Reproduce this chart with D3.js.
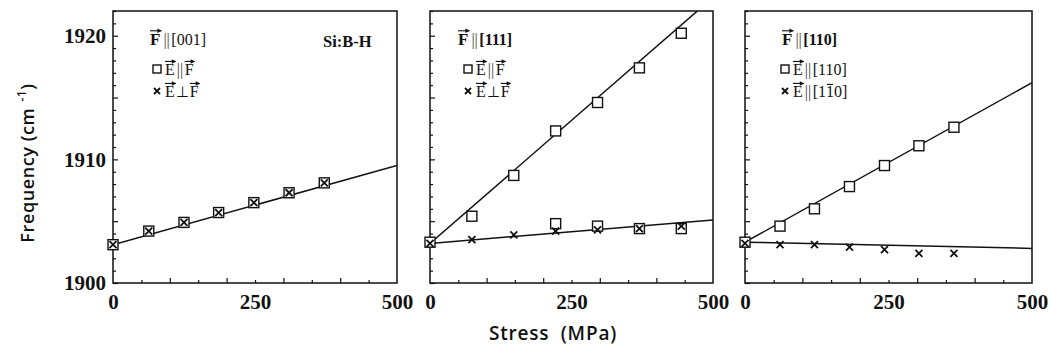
<!DOCTYPE html>
<html>
<head>
<meta charset="utf-8">
<script src="https://cdn.jsdelivr.net/npm/d3@7"></script>
<style>
  body { margin: 0; background: #fff; }
  svg { display: block; }
  .tick text { font-family: "Liberation Serif", serif; font-weight: bold; font-size: 21px; fill: #111; }
  .tick line { stroke: #111; stroke-width: 1.2; }
</style>
</head>
<body>
<svg id="chart" width="1051" height="351"></svg>
<script>
// ---- data ----
const stress001 = [0, 63, 125, 186, 248, 310, 372];
const par001 = [1903.1, 1904.2, 1904.9, 1905.7, 1906.5, 1907.3, 1908.1];
const perp001 = [1903.1, 1904.2, 1904.9, 1905.7, 1906.5, 1907.3, 1908.1];

const stress111 = [0, 74, 148, 222, 296, 370, 444];
const par111 = [1903.3, 1905.4, 1908.7, 1912.3, 1914.6, 1917.4, 1920.2];
const stress111Low = [222, 296, 370, 444];
const par111Low = [1904.8, 1904.6, 1904.4, 1904.4];
const perp111 = [1903.2, 1903.5, 1903.9, 1904.2, 1904.3, 1904.4, 1904.6];

const stress110 = [0, 61, 121, 182, 243, 303, 364];
const par110 = [1903.3, 1904.6, 1906.0, 1907.8, 1909.5, 1911.1, 1912.6];
const perp110 = [1903.2, 1903.1, 1903.1, 1902.9, 1902.7, 1902.4, 1902.4];

// fitted lines, value at 0 and 500 MPa
const fitStress = [0, 500];
const fit001 = [1903.1, 1909.5];
const fit111Up = [1903.2, 1923.1];
const fit111Low = [1903.2, 1905.1];
const fit110Up = [1903.3, 1916.2];
const fit110Low = [1903.3, 1902.8];

const freqTicks = [1900, 1910, 1920];
const stressTicks = [0, 250, 500];
const freqDomain = [1900, 1922];
const stressDomain = [0, 500];

const yTitle = "Frequency (cm";
const xTitle = "Stress  (MPa)";
const sampleLabel = "Si:B-H";

// ---- layout ----
const svg = d3.select("#chart");
const plotTop = 11, plotBottom = 283;
const panelLeft = [113, 430, 745];
const panelWidth = [284, 283, 287];
const legendX = [150, 458, 782];
const markerX = [157, 468, 785];
const serif = "Liberation Serif, serif";
const sans = "Open Sans, sans-serif";

const y = d3.scaleLinear().domain(freqDomain).range([plotBottom, plotTop]);

// text built from pieces, with arrows / bars over some of them
function rich(g, x0, yb, parts) {
    let cx = x0;
    parts.forEach(p => {
        const fs = p.size || 16;
        const t = g.append("text")
            .attr("x", cx).attr("y", yb)
            .attr("font-family", serif)
            .attr("font-size", fs)
            .attr("font-weight", p.bold ? "bold" : "normal")
            .attr("fill", p.light ? "#444" : "#111")
            .text(p.t);
        const w = t.node().getComputedTextLength();
        if (p.arrow) {
            const ay = yb - fs * 0.66 - 3;
            g.append("line").attr("x1", cx).attr("x2", cx + w + 1)
                .attr("y1", ay).attr("y2", ay)
                .attr("stroke", "#111").attr("stroke-width", 1.1);
            g.append("path")
                .attr("d", `M${cx + w - 3},${ay - 2.3}L${cx + w + 1.5},${ay}L${cx + w - 3},${ay + 2.3}Z`)
                .attr("fill", "#111");
        }
        if (p.bar) {
            const by = yb - fs * 0.66 - 2;
            g.append("line").attr("x1", cx + 1).attr("x2", cx + w - 1)
                .attr("y1", by).attr("y2", by)
                .attr("stroke", "#111").attr("stroke-width", 1.1);
        }
        cx += w + (p.gap || 0);
    });
}

function square(g, cx, cy, s) {
    g.append("rect").attr("x", cx - s / 2).attr("y", cy - s / 2)
        .attr("width", s).attr("height", s)
        .attr("fill", "#fff").attr("stroke", "#111").attr("stroke-width", 1.4);
}
function cross(g, cx, cy, s) {
    g.append("path")
        .attr("d", `M${cx - s / 2},${cy - s / 2}L${cx + s / 2},${cy + s / 2}M${cx - s / 2},${cy + s / 2}L${cx + s / 2},${cy - s / 2}`)
        .attr("stroke", "#111").attr("stroke-width", 1.8).attr("fill", "none");
}

const bars = {t: "||", light: true, size: 16, gap: 1.5};
const panels = [
    { fits: [fit001], squares: [[stress001, par001]], crosses: [stress001, perp001],
      title: [{t: "F", bold: true, arrow: true, size: 17, gap: 3}, bars, {t: "[001]", size: 16}],
      row1: [{t: "E", arrow: true, gap: 2}, bars, {t: "F", arrow: true}],
      row2: [{t: "E", arrow: true, gap: 1}, {t: "\u22A5", size: 15, gap: 1}, {t: "F", arrow: true}] },
    { fits: [fit111Up, fit111Low], squares: [[stress111, par111], [stress111Low, par111Low]], crosses: [stress111, perp111],
      title: [{t: "F", bold: true, arrow: true, size: 17, gap: 3}, bars, {t: "[111]", bold: true, size: 16}],
      row1: [{t: "E", arrow: true, gap: 2}, bars, {t: "F", arrow: true}],
      row2: [{t: "E", arrow: true, gap: 1}, {t: "\u22A5", size: 15, gap: 1}, {t: "F", arrow: true}] },
    { fits: [fit110Up, fit110Low], squares: [[stress110, par110]], crosses: [stress110, perp110],
      title: [{t: "F", bold: true, arrow: true, size: 17, gap: 3}, bars, {t: "[110]", bold: true, size: 16}],
      row1: [{t: "E", arrow: true, gap: 2}, bars, {t: "[110]"}],
      row2: [{t: "E", arrow: true, gap: 2}, bars, {t: "[1"}, {t: "1", bar: true}, {t: "0]"}] }
];

panels.forEach((p, i) => {
    const left = panelLeft[i], w = panelWidth[i];
    const x = d3.scaleLinear().domain(stressDomain).range([left, left + w]);
    const g = svg.append("g");

    // clip for fit lines
    svg.append("clipPath").attr("id", "clip" + i)
        .append("rect").attr("x", left).attr("y", plotTop)
        .attr("width", w).attr("height", plotBottom - plotTop);

    // ticks, all pointing inwards
    const minorY = d3.range(freqDomain[0], freqDomain[1] + 1).filter(d => d % 5 != 0);
    const majorY = d3.range(freqDomain[0], freqDomain[1] + 1).filter(d => d % 5 == 0);
    g.append("g").attr("transform", `translate(${left},0)`)
        .call(d3.axisLeft(y).tickValues(minorY).tickSize(-3).tickFormat(""))
        .call(a => a.select(".domain").remove());
    g.append("g").attr("transform", `translate(${left},0)`)
        .call(d3.axisLeft(y).tickValues(majorY).tickSize(-5).tickFormat(""))
        .call(a => a.select(".domain").remove());
    const minorX = d3.range(50, 500, 100);
    const majorX = d3.range(100, 500, 100);
    g.append("g").attr("transform", `translate(0,${plotBottom})`)
        .call(d3.axisBottom(x).tickValues(minorX).tickSize(-3).tickFormat(""))
        .call(a => a.select(".domain").remove());
    g.append("g").attr("transform", `translate(0,${plotBottom})`)
        .call(d3.axisBottom(x).tickValues(majorX).tickSize(-5).tickFormat(""))
        .call(a => a.select(".domain").remove());

    // tick labels
    g.append("g").attr("transform", `translate(0,${plotBottom})`)
        .call(d3.axisBottom(x).tickValues(stressTicks).tickSize(0).tickPadding(11).tickFormat(d3.format("d")))
        .call(a => a.select(".domain").remove());
    if (i == 0) {
        g.append("g").attr("transform", `translate(${left},0)`)
            .call(d3.axisLeft(y).tickValues(freqTicks).tickSize(0).tickPadding(7).tickFormat(d3.format("d")))
            .call(a => a.select(".domain").remove());
    }

    // frame
    g.append("rect").attr("x", left).attr("y", plotTop)
        .attr("width", w).attr("height", plotBottom - plotTop)
        .attr("fill", "none").attr("stroke", "#111").attr("stroke-width", 1.5);

    // fit lines
    const lineGen = d3.line().x(d => x(d[0])).y(d => y(d[1]));
    p.fits.forEach(f => {
        g.append("path")
            .attr("d", lineGen(fitStress.map((s, k) => [s, f[k]])))
            .attr("clip-path", `url(#clip${i})`)
            .attr("stroke", "#111").attr("stroke-width", 1.5).attr("fill", "none");
    });

    // points
    p.squares.forEach(([sx, sy]) => {
        sx.forEach((s, k) => square(g, x(s), y(sy[k]), 10));
    });
    p.crosses[0].forEach((s, k) => cross(g, x(s), y(p.crosses[1][k]), 7));

    // legend
    rich(g, legendX[i], 45, p.title);
    square(g, markerX[i], 69, 8);
    rich(g, markerX[i] + 8, 75, p.row1);
    cross(g, markerX[i], 91, 6);
    rich(g, markerX[i] + 8, 97, p.row2);
});

// sample label
svg.append("text").attr("x", 323).attr("y", 47)
    .attr("font-family", serif).attr("font-weight", "bold").attr("font-size", 16.5)
    .attr("fill", "#111").text(sampleLabel);

// axis titles
const yt = svg.append("text")
    .attr("transform", "translate(34,163) rotate(-90)")
    .attr("text-anchor", "middle")
    .attr("font-family", sans).attr("font-weight", 600).attr("font-size", 18)
    .attr("letter-spacing", 0.6).attr("fill", "#111");
yt.append("tspan").text(yTitle);
yt.append("tspan").attr("dx", 6).attr("dy", -8).attr("font-size", 12).text("-1");
yt.append("tspan").attr("dy", 8).text(")");

svg.append("text").attr("x", 553).attr("y", 340)
    .attr("text-anchor", "middle")
    .attr("font-family", sans).attr("font-weight", 600).attr("font-size", 19)
    .attr("letter-spacing", 0.8).attr("fill", "#111")
    .attr("xml:space", "preserve").style("white-space", "pre")
    .text(xTitle);
</script>
</body>
</html>
